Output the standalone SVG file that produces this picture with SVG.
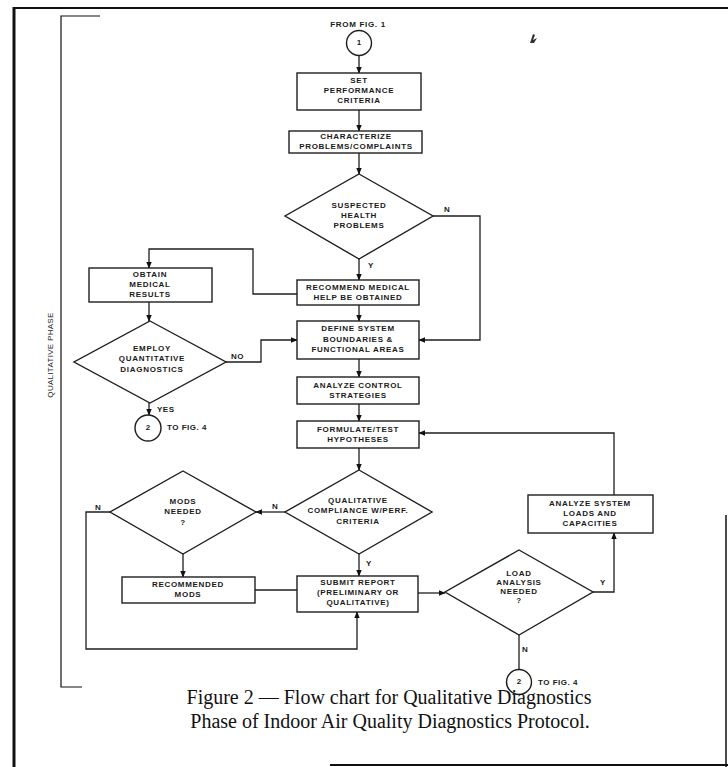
<svg xmlns="http://www.w3.org/2000/svg" width="728" height="767" viewBox="0 0 728 767">
<defs>
<marker id="ah" viewBox="0 0 10 10" refX="9" refY="5" markerWidth="7" markerHeight="7" orient="auto" markerUnits="userSpaceOnUse">
<path d="M0,1 L10,5 L0,9 z" fill="#111"/>
</marker>
<style>
.frame{stroke:#111;fill:none}
.box{fill:#fff;stroke:#1e1e1e;stroke-width:1.4}
.ln{fill:none;stroke:#1e1e1e;stroke-width:1.3}
.t{font-family:"Liberation Sans",Arial,sans-serif;font-size:8px;font-weight:bold;letter-spacing:0.7px;fill:#1a1a1a;text-anchor:middle;dominant-baseline:middle}
.lbl{font-family:"Liberation Sans",Arial,sans-serif;font-size:8px;font-weight:bold;letter-spacing:0.5px;fill:#1a1a1a;dominant-baseline:middle}
.cap{font-family:"Liberation Serif","Times New Roman",serif;font-size:20px;fill:#111;text-anchor:middle}
</style>
</defs>
<rect width="728" height="767" fill="#fff"/>
<g id="frame">
<line class="frame" x1="14" y1="7" x2="14" y2="767" stroke-width="3"/>
<line class="frame" x1="14" y1="8" x2="728" y2="8" stroke-width="2"/>
<line class="frame" x1="726" y1="515" x2="726" y2="767" stroke-width="1.5"/>
<line class="frame" x1="330" y1="765" x2="728" y2="765" stroke-width="2"/>
<path class="frame" d="M100,16 H61 V687 H82" stroke-width="1.2"/>
<text class="lbl" transform="translate(51,355) rotate(-90)" text-anchor="middle" style="font-weight:normal;font-size:8px;letter-spacing:0.3px">QUALITATIVE PHASE</text>
<path d="M530,43 l3,-9 l2,1 l-2,5 l4,-2 l-3,5 z" fill="#333"/>
</g>
<g id="connectors">
<line class="ln" x1="359" y1="55" x2="359" y2="73" marker-end="url(#ah)"/>
<line class="ln" x1="359" y1="110" x2="359" y2="131" marker-end="url(#ah)"/>
<line class="ln" x1="359" y1="153" x2="359" y2="174" marker-end="url(#ah)"/>
<line class="ln" x1="359" y1="259" x2="359" y2="280" marker-end="url(#ah)"/>
<polyline class="ln" points="433,216 480,216 480,340 419,340" marker-end="url(#ah)"/>
<line class="ln" x1="359" y1="305" x2="359" y2="321" marker-end="url(#ah)"/>
<polyline class="ln" points="297,294 253,294 253,249 149,249 149,268" marker-end="url(#ah)"/>
<line class="ln" x1="149" y1="302" x2="149" y2="321" marker-end="url(#ah)"/>
<polyline class="ln" points="226,362 261,362 261,340 297,340" marker-end="url(#ah)"/>
<line class="ln" x1="149" y1="403" x2="149" y2="415" marker-end="url(#ah)"/>
<line class="ln" x1="359" y1="359" x2="359" y2="377" marker-end="url(#ah)"/>
<line class="ln" x1="359" y1="404" x2="359" y2="421" marker-end="url(#ah)"/>
<line class="ln" x1="359" y1="448" x2="359" y2="470" marker-end="url(#ah)"/>
<line class="ln" x1="285" y1="512" x2="256" y2="512" marker-end="url(#ah)"/>
<line class="ln" x1="359" y1="554" x2="359" y2="576" marker-end="url(#ah)"/>
<line class="ln" x1="183" y1="554" x2="183" y2="577" marker-end="url(#ah)"/>
<line class="ln" x1="297" y1="590" x2="255" y2="590"/>
<polyline class="ln" points="110,512 86,512 86,649 357,649 357,612" marker-end="url(#ah)"/>
<line class="ln" x1="418" y1="593" x2="445" y2="593" marker-end="url(#ah)"/>
<polyline class="ln" points="593,592 614,592 614,533" marker-end="url(#ah)"/>
<polyline class="ln" points="614,495 614,433 419,433" marker-end="url(#ah)"/>
<line class="ln" x1="519" y1="635" x2="519" y2="670"/>
<text class="lbl" x="444" y="210">N</text>
<text class="lbl" x="368" y="266">Y</text>
<text class="lbl" x="231" y="357">NO</text>
<text class="lbl" x="157" y="410">YES</text>
<text class="lbl" x="272" y="507">N</text>
<text class="lbl" x="95" y="508">N</text>
<text class="lbl" x="366" y="564">Y</text>
<text class="lbl" x="600" y="583">Y</text>
<text class="lbl" x="522" y="650">N</text>
</g>
<g id="start">
<text class="t" x="358" y="25">FROM FIG. 1</text>
<circle cx="359" cy="43" r="12.5" class="box"/>
<text class="t" x="359" y="43" style="letter-spacing:0">1</text>
</g>
<g id="set-criteria">
<rect class="box" x="297" y="73" width="124" height="37"/>
<text class="t" x="359" y="81">SET</text>
<text class="t" x="359" y="91">PERFORMANCE</text>
<text class="t" x="359" y="101">CRITERIA</text>
</g>
<g id="characterize">
<rect class="box" x="289" y="131" width="133" height="22"/>
<text class="t" x="356" y="137">CHARACTERIZE</text>
<text class="t" x="356" y="147">PROBLEMS/COMPLAINTS</text>
</g>
<g id="suspected">
<polygon class="box" points="359,174 433,216 359,259 285,216"/>
<text class="t" x="359" y="206">SUSPECTED</text>
<text class="t" x="359" y="216">HEALTH</text>
<text class="t" x="359" y="226">PROBLEMS</text>
</g>
<g id="recommend-medical">
<rect class="box" x="297" y="280" width="122" height="25"/>
<text class="t" x="358" y="288">RECOMMEND MEDICAL</text>
<text class="t" x="358" y="298">HELP BE OBTAINED</text>
</g>
<g id="obtain-results">
<rect class="box" x="89" y="268" width="123" height="34"/>
<text class="t" x="150" y="275">OBTAIN</text>
<text class="t" x="150" y="285">MEDICAL</text>
<text class="t" x="150" y="295">RESULTS</text>
</g>
<g id="employ">
<polygon class="box" points="150,321 226,362 150,403 74,362"/>
<text class="t" x="152" y="349">EMPLOY</text>
<text class="t" x="152" y="359">QUANTITATIVE</text>
<text class="t" x="152" y="370">DIAGNOSTICS</text>
</g>
<g id="to-fig4-a">
<circle cx="148" cy="428" r="13" class="box"/>
<text class="t" x="148" y="428" style="letter-spacing:0">2</text>
<text class="lbl" x="167" y="428">TO FIG. 4</text>
</g>
<g id="define">
<rect class="box" x="297" y="321" width="122" height="38"/>
<text class="t" x="358" y="329">DEFINE SYSTEM</text>
<text class="t" x="358" y="340">BOUNDARIES &amp;</text>
<text class="t" x="358" y="350">FUNCTIONAL AREAS</text>
</g>
<g id="analyze-control">
<rect class="box" x="297" y="377" width="122" height="27"/>
<text class="t" x="358" y="386">ANALYZE CONTROL</text>
<text class="t" x="358" y="396">STRATEGIES</text>
</g>
<g id="formulate">
<rect class="box" x="297" y="421" width="122" height="27"/>
<text class="t" x="358" y="430">FORMULATE/TEST</text>
<text class="t" x="358" y="440">HYPOTHESES</text>
</g>
<g id="qualitative">
<polygon class="box" points="359,470 432,512 359,554 285,512"/>
<text class="t" x="358" y="501">QUALITATIVE</text>
<text class="t" x="358" y="511">COMPLIANCE W/PERF.</text>
<text class="t" x="358" y="522">CRITERIA</text>
</g>
<g id="mods-needed">
<polygon class="box" points="183,471 256,512 183,554 110,512"/>
<text class="t" x="183" y="502">MODS</text>
<text class="t" x="183" y="512">NEEDED</text>
<text class="t" x="183" y="523">?</text>
</g>
<g id="recommended-mods">
<rect class="box" x="122" y="577" width="133" height="26"/>
<text class="t" x="188" y="585">RECOMMENDED</text>
<text class="t" x="188" y="595">MODS</text>
</g>
<g id="submit">
<rect class="box" x="297" y="576" width="121" height="36"/>
<text class="t" x="358" y="583">SUBMIT REPORT</text>
<text class="t" x="358" y="593">(PRELIMINARY OR</text>
<text class="t" x="358" y="603">QUALITATIVE)</text>
</g>
<g id="load-analysis">
<polygon class="box" points="519,550 593,592 519,635 445,592"/>
<text class="t" x="519" y="574">LOAD</text>
<text class="t" x="519" y="583">ANALYSIS</text>
<text class="t" x="519" y="592">NEEDED</text>
<text class="t" x="519" y="601">?</text>
</g>
<g id="analyze-loads">
<rect class="box" x="528" y="495" width="125" height="38"/>
<text class="t" x="590" y="504">ANALYZE SYSTEM</text>
<text class="t" x="590" y="514">LOADS AND</text>
<text class="t" x="590" y="524">CAPACITIES</text>
</g>
<g id="to-fig4-b">
<circle cx="519" cy="682" r="12.5" class="box"/>
<text class="t" x="519" y="682" style="letter-spacing:0">2</text>
<text class="lbl" x="538" y="683">TO FIG. 4</text>
</g>
<g id="caption">
<text class="cap" x="389" y="704">Figure 2 — Flow chart for Qualitative Diagnostics</text>
<text class="cap" x="390" y="728">Phase of Indoor Air Quality Diagnostics Protocol.</text>
</g>
</svg>
